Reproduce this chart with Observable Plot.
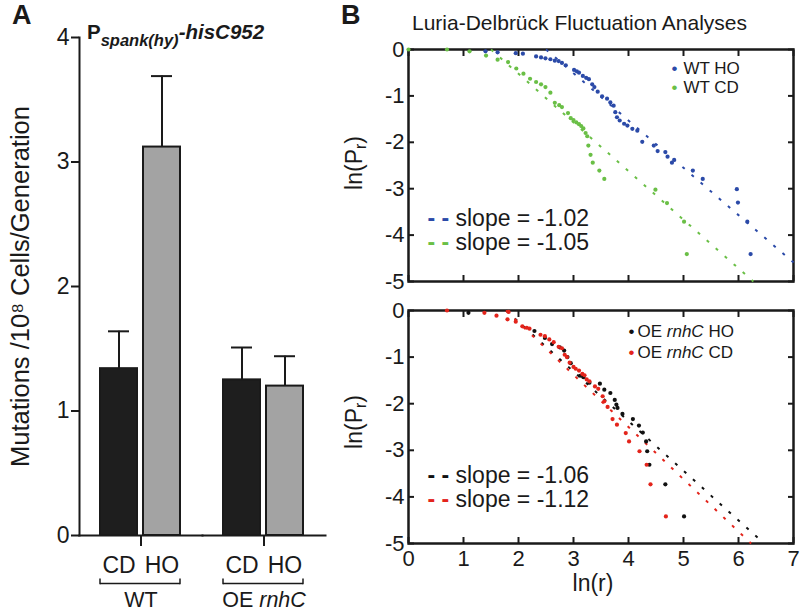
<!DOCTYPE html>
<html>
<head>
<meta charset="utf-8">
<script src="https://cdn.jsdelivr.net/npm/d3@7"></script>
<script src="https://cdn.jsdelivr.net/npm/@observablehq/plot@0.6"></script>
<style>
  html, body { margin: 0; padding: 0; background: #fff; }
  #fig { position: relative; width: 800px; height: 613px; overflow: hidden; background: #fff;
         font-family: "Liberation Sans", Arial, Helvetica, sans-serif; color: #1a1a1a; }
  #fig svg { position: absolute; overflow: visible; }
  .lbl { position: absolute; white-space: nowrap; line-height: 1; z-index: 2; }
  .panel { font-size: 27px; font-weight: bold; }
  .rot { transform: translate(-50%, -50%) rotate(-90deg); font-size: 23px; }
  .rot sub { font-size: 0.68em; vertical-align: -0.22em; }
</style>
</head>
<body>
<div id="fig">
  <div class="lbl panel" style="left:12px;top:2px">A</div>
  <div class="lbl panel" style="left:341px;top:2px">B</div>
  <div class="lbl" style="left:412px;top:12px;font-size:21px">Luria-Delbrück Fluctuation Analyses</div>
  <div class="lbl" style="left:87px;top:22px;font-size:20.5px;font-weight:bold">P<sub style="font-size:16.5px;font-style:italic;vertical-align:-7px">spank(hy)</sub><i>-hisC952</i></div>
  <div class="lbl rot" style="left:356px;top:163px">ln(P<sub>r</sub>)</div>
  <div class="lbl rot" style="left:356px;top:422px">ln(P<sub>r</sub>)</div>
</div>
<script>
// ---------- Panel A data ----------
const strains = ["WT", "OE rnhC"];
const conditions = ["CD", "HO"];
const rateMean = [1.34, 3.12, 1.25, 1.20];   // WT CD, WT HO, OE CD, OE HO
const rateUpper = [1.64, 3.69, 1.51, 1.44];  // top of error bar
const rateTicks = [0, 1, 2, 3, 4];
const rateLabel = "Mutations /10⁸ Cells/Generation";

// ---------- Panel B data: [ln(r), ln(Pr)] ----------
const wtHO = [[1.40,-0.04],[1.62,-0.06],[1.95,-0.08],[2.08,-0.09],[2.32,-0.15],[2.41,-0.17],[2.49,-0.19],[2.58,-0.21],[2.66,-0.24],[2.73,-0.25],[2.79,-0.29],[2.86,-0.34],[3.01,-0.44],[3.06,-0.47],[3.10,-0.50],[3.17,-0.57],[3.23,-0.61],[3.28,-0.64],[3.34,-0.75],[3.38,-0.81],[3.44,-0.91],[3.52,-1.01],[3.61,-1.06],[3.67,-1.14],[3.73,-1.21],[3.76,-1.35],[3.79,-1.46],[3.84,-1.53],[3.92,-1.60],[3.98,-1.64],[4.07,-1.71],[4.16,-1.75],[4.25,-1.99],[4.46,-2.07],[4.53,-2.19],[4.67,-2.21],[4.71,-2.31],[4.79,-2.44],[4.83,-2.38],[5.17,-2.61],[5.35,-2.79],[5.97,-3.01],[5.99,-3.30],[6.16,-3.71],[6.22,-4.41]];
const wtCD = [[0.00,0.00],[0.70,0.00],[1.11,-0.04],[1.41,-0.13],[1.62,-0.22],[1.81,-0.27],[1.96,-0.41],[2.09,-0.52],[2.21,-0.63],[2.32,-0.70],[2.41,-0.75],[2.49,-0.81],[2.58,-0.93],[2.66,-1.15],[2.74,-1.20],[2.79,-1.24],[2.90,-1.37],[2.95,-1.48],[3.00,-1.52],[3.05,-1.57],[3.10,-1.61],[3.14,-1.65],[3.18,-1.70],[3.22,-1.80],[3.25,-1.87],[3.27,-2.07],[3.31,-2.27],[3.35,-2.44],[3.47,-2.61],[3.56,-2.79],[4.49,-3.02],[4.70,-3.31],[5.01,-3.71],[5.06,-4.41]];
const oeHO = [[1.09,-0.05],[2.29,-0.44],[2.48,-0.59],[2.61,-0.72],[2.75,-0.79],[2.83,-0.86],[2.89,-1.00],[2.95,-1.13],[3.12,-1.40],[3.18,-1.43],[3.29,-1.55],[3.48,-1.57],[3.56,-1.70],[3.67,-1.77],[3.75,-1.92],[3.78,-2.02],[3.80,-2.09],[3.89,-2.22],[4.08,-2.33],[4.19,-2.47],[4.26,-2.62],[4.32,-2.81],[4.34,-3.02],[4.38,-3.31],[4.67,-3.73],[5.01,-4.42]];
const oeCD = [[0.70,0.00],[1.38,-0.05],[1.60,-0.11],[1.80,-0.19],[1.82,-0.03],[1.95,-0.24],[2.07,-0.34],[2.15,-0.37],[2.20,-0.39],[2.40,-0.52],[2.48,-0.55],[2.56,-0.62],[2.64,-0.68],[2.73,-0.78],[2.79,-0.81],[2.84,-0.95],[2.88,-1.00],[2.93,-1.12],[3.00,-1.21],[3.04,-1.25],[3.10,-1.29],[3.16,-1.36],[3.20,-1.39],[3.24,-1.48],[3.29,-1.52],[3.39,-1.63],[3.45,-1.68],[3.53,-1.84],[3.56,-1.95],[3.62,-2.07],[3.71,-2.33],[3.79,-2.45],[3.95,-2.63],[4.01,-2.81],[4.20,-3.02],[4.33,-3.31],[4.40,-3.73],[4.68,-4.42]];

const seriesLabels = ["WT HO", "WT CD", "OE rnhC HO", "OE rnhC CD"];
const seriesPoints = [wtHO, wtCD, oeHO, oeCD];
const slopeLabels = ["-1.02", "-1.05", "-1.06", "-1.12"];
const fitFrom = [[2.50, 0.00], [1.50, 0.00], [1.77, 0.00], [1.77, 0.00]];
const fitTo = [[7.00, -4.59], [6.27, -5.00], [6.40, -4.93], [6.23, -5.00]];
const lnrTicks = [0, 1, 2, 3, 4, 5, 6, 7];
const lnPTicks = [0, -1, -2, -3, -4, -5];

// ---------- styles ----------
const FONT = '"Liberation Sans", Arial, Helvetica, sans-serif';
const INK = "#1a1a1a";
const barColors = ["#1e1e1e", "#a3a3a3"];
const seriesColors = ["#2b4aa8", "#6abf46", "#111111", "#e3241b"];
const SVGNS = "http://www.w3.org/2000/svg";

function italicizeWord(root, word) {
  root.querySelectorAll("text, tspan").forEach(el => {
    if (el.childNodes.length !== 1 || el.firstChild.nodeType !== 3) return;
    const s = el.textContent, i = s.indexOf(word);
    if (i < 0) return;
    el.textContent = "";
    if (i > 0) el.appendChild(document.createTextNode(s.slice(0, i)));
    const ts = document.createElementNS(SVGNS, "tspan");
    ts.setAttribute("font-style", "italic");
    ts.textContent = word;
    el.appendChild(ts);
    const rest = s.slice(i + word.length);
    if (rest) el.appendChild(document.createTextNode(rest));
  });
}

// bracket end: a short upward stroke (marker for the bracket rule)
function bracketEnd(color) {
  const m = document.createElementNS(SVGNS, "marker");
  m.setAttribute("viewBox", "-2 -6 4 7");
  m.setAttribute("markerWidth", 4);
  m.setAttribute("markerHeight", 7);
  m.setAttribute("markerUnits", "userSpaceOnUse");
  m.setAttribute("orient", "0");
  m.setAttribute("overflow", "visible");
  const p = document.createElementNS(SVGNS, "path");
  p.setAttribute("d", "M0,0.7V-5");
  p.setAttribute("stroke", color);
  p.setAttribute("stroke-width", 1.5);
  p.setAttribute("fill", "none");
  m.appendChild(p);
  return m;
}

const fig = document.getElementById("fig");

// ---------- Panel A ----------
const barRows = strains.flatMap((s, si) => conditions.map((c, ci) => ({
  strain: s, cond: c, mean: rateMean[si * 2 + ci], upper: rateUpper[si * 2 + ci]
})));

const chartA = Plot.plot({
  width: 340, height: 613,
  marginTop: 37, marginBottom: 78, marginLeft: 78, marginRight: 15,
  style: {fontFamily: FONT, fontSize: "23px", color: INK, background: "transparent"},
  fx: {domain: strains, padding: 0},
  x: {domain: conditions, paddingInner: 0.138, paddingOuter: 0.48},
  y: {domain: [0, 4]},
  color: {domain: conditions, range: barColors},
  marks: [
    Plot.ruleX(barRows, {fx: "strain", x: "cond", y1: "mean", y2: "upper", stroke: INK, strokeWidth: 2}),
    Plot.tickY(barRows, {fx: "strain", x: "cond", y: "upper", stroke: INK, strokeWidth: 2, insetLeft: 8, insetRight: 8}),
    Plot.barY(barRows, {fx: "strain", x: "cond", y: "mean", fill: "cond", stroke: INK, strokeWidth: 2}),
    Plot.frame({anchor: "bottom", stroke: INK, strokeWidth: 2}),
    Plot.frame({anchor: "left", facetAnchor: "left", stroke: INK, strokeWidth: 2}),
    Plot.axisY({ticks: rateTicks, tickFormat: d => String(d), tickSize: 8, tickPadding: 2, strokeWidth: 2, label: null}),
    Plot.text([rateLabel], {fx: () => strains[0], frameAnchor: "left", rotate: -90, dx: -59, fontSize: 25.5, lineAnchor: "middle", textAnchor: "middle"}),
    Plot.axisX({anchor: "bottom", tickSize: 0, tickPadding: 21, label: null}),
    Plot.axisFx({anchor: "bottom", tickSize: 11, strokeWidth: 2, tickFormat: () => "", label: null}),
    Plot.ruleY(strains, {fx: d => d, y: () => 0, x1: () => conditions[0], x2: () => conditions[1], dy: 48, stroke: INK, strokeWidth: 1.5, markerStart: bracketEnd, markerEnd: bracketEnd}),
    Plot.text(strains, {fx: d => d, text: d => d, frameAnchor: "bottom", dy: 65, lineAnchor: "middle", fontSize: 21.5})
  ]
});
chartA.style.left = "0px"; chartA.style.top = "0px";
italicizeWord(chartA, "rnhC");
fig.appendChild(chartA);

// ---------- Panel B ----------
function fluctuationPlot(which, lay) {
  const marks = [
    Plot.frame({stroke: INK, strokeWidth: 2.5}),
    Plot.axisY({anchor: "left", ticks: lnPTicks, tickSize: -6, tickPadding: 10, strokeWidth: 2, tickFormat: d => String(d), label: null}),
    Plot.axisY({anchor: "right", ticks: lnPTicks, tickSize: -6, strokeWidth: 2, tickFormat: () => "", label: null}),
    Plot.axisX({anchor: "top", ticks: lnrTicks, tickSize: -6, strokeWidth: 2, tickFormat: () => "", label: null}),
    Plot.axisX({anchor: "bottom", ticks: lnrTicks, tickSize: -6, tickPadding: 13, strokeWidth: 2,
                tickFormat: lay.xLabels ? (d => String(d)) : (() => ""), label: null})
  ];
  which.forEach((i) => {
    const fit = [{from: fitFrom[i], to: fitTo[i]}];
    marks.push(Plot.link(fit, {x1: d => d.from[0], y1: d => d.from[1], x2: d => d.to[0], y2: d => d.to[1],
      stroke: seriesColors[i], strokeWidth: 2, strokeDasharray: "3,9"}));
  });
  which.forEach((i) => {
    marks.push(Plot.dot(seriesPoints[i], {x: d => d[0], y: d => d[1], r: 2.1, fill: seriesColors[i]}));
  });
  which.forEach((i, k) => {
    const ly = lay.legDy + k * lay.legStep, sy = lay.slopeDy + k * 24;
    marks.push(Plot.text(["•"], {frameAnchor: "top-left", dx: lay.dotDx, dy: ly, textAnchor: "middle", lineAnchor: "middle", fontSize: 17, fill: seriesColors[i]}));
    marks.push(Plot.text([seriesLabels[i]], {frameAnchor: "top-left", dx: lay.textDx, dy: ly, textAnchor: "start", lineAnchor: "middle", fontSize: 17, fill: INK}));
    marks.push(Plot.text(["- -"], {frameAnchor: "bottom-left", dx: 19, dy: sy, textAnchor: "start", lineAnchor: "middle", fontSize: 23, fontWeight: "bold", fill: seriesColors[i]}));
    marks.push(Plot.text([`slope = ${slopeLabels[i]}`], {frameAnchor: "bottom-left", dx: 47, dy: sy, textAnchor: "start", lineAnchor: "middle", fontSize: 23, fill: INK}));
  });
  if (lay.xLabels) marks.push(Plot.text(["ln(r)"], {frameAnchor: "bottom", dx: -8, dy: 40, lineAnchor: "middle", fontSize: 23, fill: INK}));
  const svg = Plot.plot({
    width: 460, height: lay.height,
    marginLeft: 68, marginRight: 7, marginTop: lay.marginTop, marginBottom: lay.marginBottom,
    style: {fontFamily: FONT, fontSize: "22px", color: INK, background: "transparent"},
    x: {domain: [0, 7]},
    y: {domain: [-5, 0]},
    marks
  });
  svg.style.left = "340px"; svg.style.top = lay.top + "px";
  italicizeWord(svg, "rnhC");
  return svg;
}

fig.appendChild(fluctuationPlot([0, 1], {top: 0, height: 290, marginTop: 49, marginBottom: 9, xLabels: false,
  dotDx: 266, textDx: 275, legDy: 19, legStep: 19, slopeDy: -63}));
fig.appendChild(fluctuationPlot([2, 3], {top: 290, height: 323, marginTop: 20, marginBottom: 70, xLabels: true,
  dotDx: 223, textDx: 229, legDy: 21, legStep: 21, slopeDy: -68}));
</script>
</body>
</html>
